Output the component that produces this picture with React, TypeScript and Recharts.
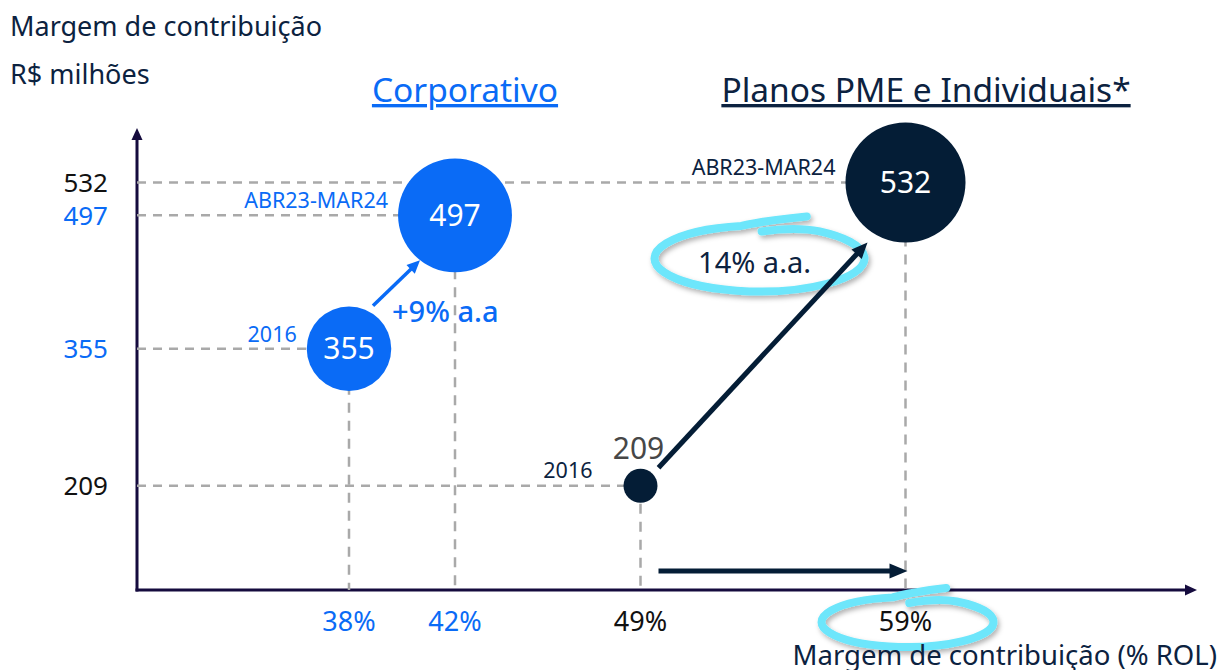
import React from 'react';
import { ScatterChart, Scatter, XAxis, YAxis, ZAxis, ReferenceLine } from 'recharts';

// ---------- data ----------
const periods = ['2016', 'ABR23-MAR24'];
const corporativoMargin = [38, 42];
const corporativoValue = [355, 497];
const pmeMargin = [49, 59];
const pmeValue = [209, 532];
const corporativoGrowth = '+9% a.a';
const pmeGrowth = '14% a.a.';
const xTicks = [38, 42, 49, 59];
const xTickLabels = ['38%', '42%', '49%', '59%'];
const yTicks = [209, 355, 497, 532];
const yTickLabels = ['209', '355', '497', '532'];
const highlightedXTicks = [59];
const seriesNames = ['Corporativo', 'Planos PME e Individuais*'];
const yAxisTitle = ['Margem de contribuição', 'R$ milhões'];
const xAxisTitle = 'Margem de contribuição (% ROL)';

// ---------- styling ----------
const W = 1220;
const H = 670;
const BLUE = '#0A6BF6';
const NAVY = '#041D36';
const TEXT_NAVY = '#0C2240';
const AXIS = '#150B3E';
const DASH = '#A9A9A9';
const CYAN = '#6DE6FB';
const FONT = '"Noto Sans", "Open Sans", sans-serif';
const X_DOMAIN: [number, number] = [30, 70];
const Y_DOMAIN: [number, number] = [98, 590];

const corporativoData = periods.map((p, i) => ({ period: p, x: corporativoMargin[i], y: corporativoValue[i] }));
const pmeData = periods.map((p, i) => ({ period: p, x: pmeMargin[i], y: pmeValue[i] }));

// ---------- helpers ----------
function Arrow({ x1, y1, x2, y2, color, width, head, headW }: any) {
  const dx = x2 - x1;
  const dy = y2 - y1;
  const len = Math.hypot(dx, dy) || 1;
  const ux = dx / len;
  const uy = dy / len;
  const bx = x2 - ux * head;
  const by = y2 - uy * head;
  const px = -uy;
  const py = ux;
  const hw = headW / 2;
  return (
    <g>
      <line x1={x1} y1={y1} x2={bx + ux * 1} y2={by + uy * 1} stroke={color} strokeWidth={width} />
      <polygon
        points={`${x2},${y2} ${bx + px * hw},${by + py * hw} ${bx - px * hw},${by - py * hw}`}
        fill={color}
      />
    </g>
  );
}

function Swirl({ cx, cy, rx, ry, id }: any) {
  const pt = (deg: number) => {
    const t = (deg * Math.PI) / 180;
    return [cx + rx * Math.cos(t), cy + ry * Math.sin(t)];
  };
  const tail = [cx + 0.45 * rx, cy - ry - 9];
  const p1 = pt(-100);
  const p2 = pt(-55);
  const hook = [cx + 0.02 * rx, cy - ry + 6];
  const d = `M ${tail[0]} ${tail[1]} Q ${cx + 0.05 * rx} ${cy - ry - 5} ${p1[0]} ${p1[1]} A ${rx} ${ry} 0 1 0 ${p2[0]} ${p2[1]} Q ${cx + 0.35 * rx} ${cy - ry + 1} ${hook[0]} ${hook[1]}`;
  return (
    <g>
      <defs>
        <filter id={id} x="-20%" y="-40%" width="140%" height="180%">
          <feDropShadow dx="2" dy="3" stdDeviation="2.5" floodColor="#000" floodOpacity="0.3" />
        </filter>
      </defs>
      <path d={d} fill="none" stroke={CYAN} strokeWidth={8} strokeLinecap="round" filter={`url(#${id})`} />
    </g>
  );
}

const makeBubble = (fill: string, labelColor: string) => (props: any) => {
  const { cx, cy, width, size, payload } = props;
  if (cx == null || cy == null) return <g />;
  const r = width ? width / 2 : Math.sqrt((size || 100) / Math.PI);
  const small = r < 25;
  const gap = Math.max(10, 48 - r);
  return (
    <g>
      <circle cx={cx} cy={cy} r={r} fill={fill} />
      {small ? (
        <text x={cx - 2} y={cy - 27} textAnchor="middle" fontSize={30} fill="#474747" fontFamily={FONT}>
          {payload.y}
        </text>
      ) : (
        <text x={cx} y={cy + 10.5} textAnchor="middle" fontSize={30} fill="#FFFFFF" fontFamily={FONT}>
          {payload.y}
        </text>
      )}
      <text x={cx - r - gap} y={cy - (small ? 8 : 7)} textAnchor="end" fontSize={21.5} fill={labelColor} fontFamily={FONT}>
        {payload.period}
      </text>
    </g>
  );
};

const renderXTick = (props: any) => {
  const { x, y, payload } = props;
  const v = payload.value;
  const i = xTicks.indexOf(v);
  const color = corporativoMargin.includes(v) ? BLUE : '#111111';
  return (
    <g key={`xt${v}`}>
      {highlightedXTicks.includes(v) && <Swirl cx={x + 2} cy={y + 32} rx={86} ry={25} id="swirlX" />}
      <text x={x} y={y + 41} textAnchor="middle" fontSize={27} fill={color} fontFamily={FONT}>
        {xTickLabels[i]}
      </text>
    </g>
  );
};

const renderYTick = (props: any) => {
  const { x, y, payload } = props;
  const v = payload.value;
  const i = yTicks.indexOf(v);
  const color = corporativoValue.includes(v) ? BLUE : '#111111';
  return (
    <text key={`yt${v}`} x={x} y={y + 9.5} textAnchor="end" fontSize={26} fill={color} fontFamily={FONT}>
      {yTickLabels[i]}
    </text>
  );
};

const allPoints = [...corporativoData, ...pmeData];

export default function App() {
  return (
    <div style={{ position: 'absolute', left: 0, top: 0, width: W, height: H, fontFamily: FONT, background: '#fff' }}>
      <ScatterChart width={W} height={H} margin={{ top: 128, left: 77, right: 23, bottom: 20 }}>
        <XAxis
          type="number"
          dataKey="x"
          domain={X_DOMAIN}
          ticks={xTicks}
          interval={0}
          height={60}
          tickSize={0}
          tickMargin={0}
          axisLine={false}
          tickLine={false}
          tick={renderXTick}
        />
        <YAxis
          type="number"
          dataKey="y"
          domain={Y_DOMAIN}
          ticks={yTicks}
          interval={0}
          width={60}
          tickSize={0}
          tickMargin={29}
          axisLine={false}
          tickLine={false}
          tick={renderYTick}
        />
        <ZAxis type="number" dataKey="y" domain={[209, 532]} range={[908, 11310]} />

        {/* axes with arrowheads */}
        <ReferenceLine
          segment={[{ x: X_DOMAIN[0], y: Y_DOMAIN[0] }, { x: X_DOMAIN[1], y: Y_DOMAIN[0] }]}
          shape={(p: any) => <Arrow x1={p.x1 - 1.5} y1={p.y1} x2={p.x2} y2={p.y2} color={AXIS} width={3} head={12} headW={11} />}
        />
        <ReferenceLine
          segment={[{ x: X_DOMAIN[0], y: Y_DOMAIN[0] }, { x: X_DOMAIN[0], y: Y_DOMAIN[1] }]}
          shape={(p: any) => <Arrow x1={p.x1} y1={p.y1 + 1.5} x2={p.x2} y2={p.y2} color={AXIS} width={3} head={12} headW={11} />}
        />

        {/* dashed guide lines */}
        {allPoints.map((d, i) => (
          <ReferenceLine
            key={`h${i}`}
            segment={[{ x: X_DOMAIN[0], y: d.y }, { x: d.x, y: d.y }]}
            stroke={DASH}
            strokeWidth={2.5}
            strokeDasharray="9 7"
          />
        ))}
        {allPoints.map((d, i) => (
          <ReferenceLine
            key={`v${i}`}
            segment={[{ x: d.x, y: d.y }, { x: d.x, y: Y_DOMAIN[0] }]}
            stroke={DASH}
            strokeWidth={2.5}
            strokeDasharray="10 8"
          />
        ))}

        <Scatter name={seriesNames[0]} data={corporativoData} fill={BLUE} isAnimationActive={false} shape={makeBubble(BLUE, BLUE)} />
        <Scatter name={seriesNames[1]} data={pmeData} fill={NAVY} isAnimationActive={false} shape={makeBubble(NAVY, TEXT_NAVY)} />

        {/* Corporativo growth arrow */}
        <ReferenceLine
          segment={[{ x: corporativoData[0].x, y: corporativoData[0].y }, { x: corporativoData[1].x, y: corporativoData[1].y }]}
          shape={(p: any) => (
            <g>
              <Arrow x1={p.x1 + 24} y1={p.y1 - 43} x2={p.x2 - 35} y2={p.y2 + 45} color={BLUE} width={3.5} head={13} headW={12} />
              <text x={p.x1 + 43} y={p.y1 - 27} fontSize={29} fontWeight={500} fill={BLUE} fontFamily={FONT}>
                {corporativoGrowth}
              </text>
            </g>
          )}
        />
        {/* PME growth arrow */}
        <ReferenceLine
          segment={[{ x: pmeData[0].x, y: pmeData[0].y }, { x: pmeData[1].x, y: pmeData[1].y }]}
          shape={(p: any) => (
            <g>
              <Swirl cx={p.x2 - 146} cy={p.y2 + 76} rx={105} ry={33} id="swirlG" />
              <Arrow x1={p.x1 + 18} y1={p.y1 - 18} x2={p.x2 - 38} y2={p.y2 + 60} color={NAVY} width={5} head={16} headW={14} />
              <text x={p.x2 - 151} y={p.y2 + 91} textAnchor="middle" fontSize={29} fill={TEXT_NAVY} fontFamily={FONT}>
                {pmeGrowth}
              </text>
            </g>
          )}
        />
        {/* horizontal margin-shift arrow */}
        <ReferenceLine
          segment={[{ x: pmeData[0].x, y: Y_DOMAIN[0] }, { x: pmeData[1].x, y: Y_DOMAIN[0] }]}
          shape={(p: any) => (
            <Arrow x1={p.x1 + 18} y1={p.y1 - 19} x2={p.x2 + 2} y2={p.y2 - 19} color={NAVY} width={5} head={18} headW={15} />
          )}
        />
      </ScatterChart>

      <svg width={W} height={H} style={{ position: 'absolute', left: 0, top: 0, pointerEvents: 'none' }}>
        <text x={10} y={36} fontSize={27} fill={TEXT_NAVY} fontFamily={FONT}>{yAxisTitle[0]}</text>
        <text x={10} y={84} fontSize={27} fill={TEXT_NAVY} fontFamily={FONT}>{yAxisTitle[1]}</text>
        <text x={465} y={102} textAnchor="middle" fontSize={33.5} fill={BLUE} fontFamily={FONT} style={{ textDecoration: 'underline' }}>
          {seriesNames[0]}
        </text>
        <text x={926} y={102} textAnchor="middle" fontSize={33.5} fill={TEXT_NAVY} fontFamily={FONT} style={{ textDecoration: 'underline' }}>
          {seriesNames[1]}
        </text>
        <text x={1217} y={665} textAnchor="end" fontSize={27.5} fill={TEXT_NAVY} fontFamily={FONT}>{xAxisTitle}</text>
      </svg>
    </div>
  );
}
